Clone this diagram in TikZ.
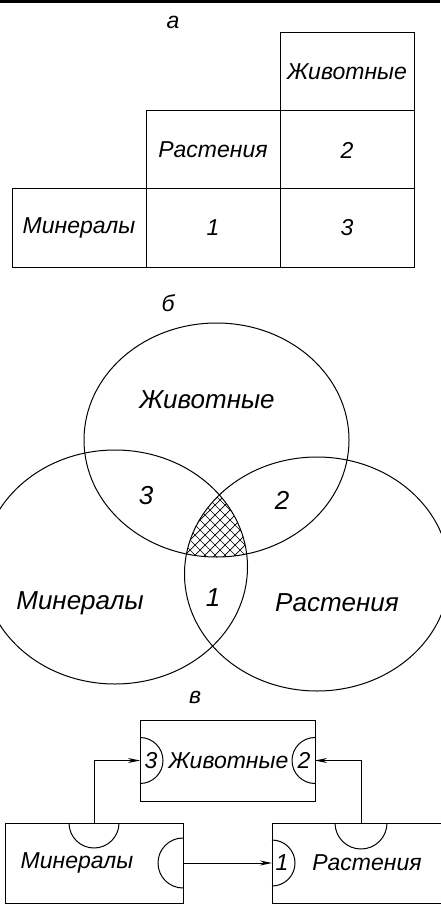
\documentclass[tikz,border=0pt]{standalone}
\usepackage{fontspec}
\setmainfont{Liberation Sans}
\usetikzlibrary{positioning,arrows.meta}

\newcommand\handfont{\fontsize{23}{27}\selectfont\itshape}
\newcommand\bighand{\fontsize{26}{30}\selectfont\itshape}

\begin{document}
\begin{tikzpicture}[x=1pt, y=-1pt,
  cell/.style={rectangle, draw, line width=1pt, minimum width=134pt,
               minimum height=78pt, inner sep=0pt, outer sep=0pt, font=\handfont},
  venn/.style={draw, line width=1pt},
  hatch/.style={line width=0.7pt},
  block/.style={rectangle, draw, line width=1pt, inner sep=0pt, outer sep=0pt},
  port/.style={draw, line width=1pt},
  lbl/.style={font=\handfont, inner sep=1pt},
  biglbl/.style={font=\bighand, inner sep=1pt},
  arr/.style={-{Stealth[length=12pt,width=5pt]}, line width=1pt}
]
\useasboundingbox (0,0) rectangle (440,904);
\draw[line width=3pt] (0,1.5) -- (440,1.5);

% a
\node[lbl] (capa) at (173,22) {а};
\node[cell] (tmin) at (79,228) {Минералы};
\node[cell, right=0pt of tmin] (tone) {1};
\node[cell, right=0pt of tone] (tthree) {3};
\node[cell, above=0pt of tone] (tras) {Растения};
\node[cell, above=0pt of tthree] (ttwo) {2};
\node[cell, above=0pt of ttwo] (tzh) {Животные};

% b
\node[lbl] (capb) at (168,303) {б};
\coordinate (czh) at (216.5,440);
\coordinate (cmin) at (115,567);
\coordinate (cras) at (317,574);
\begin{scope}
  \clip (czh) ellipse [x radius=132.5pt, y radius=117pt];
  \clip (cmin) ellipse [x radius=132.5pt, y radius=117pt];
  \clip (cras) ellipse [x radius=132.5pt, y radius=117pt];
  \foreach \k in {100,110,...,340} {
    \draw[hatch] (\k,480) -- ++(80,80);
    \draw[hatch] (\k,480) -- ++(-80,80);
  }
\end{scope}
\draw[venn] (czh) ellipse [x radius=132.5pt, y radius=117pt];
\draw[venn] (cmin) ellipse [x radius=132.5pt, y radius=117pt];
\draw[venn] (cras) ellipse [x radius=132.5pt, y radius=117pt];
\node[biglbl] (vzh) at (207,400) {Животные};
\node[biglbl] (vmin) at (80,603) {Минералы};
\node[biglbl] (vras) at (337,603) {Растения};
\node[biglbl] (vthree) at (146,496) {3};
\node[biglbl] (vtwo) at (282,500) {2};
\node[biglbl] (vone) at (213,598) {1};

% v
\node[lbl] (capv) at (195,697) {в};
\node[block, minimum width=175pt, minimum height=81pt] (zh) at (227.5,760.5) {};
\node[block, minimum width=178pt, minimum height=80pt] (min) at (94,863) {};
\node[block, minimum width=178pt, minimum height=80pt, right=89pt of min] (ras) {};

\draw[port] ([yshift=23pt]zh.west) arc[start angle=90, end angle=-90, radius=23pt];
\draw[port] ([yshift=23pt]zh.east) arc[start angle=90, end angle=270, radius=23pt];
\draw[port] ([xshift=-25pt]min.north) arc[start angle=180, end angle=360, radius=25pt];
\draw[port] ([yshift=25pt]min.east) arc[start angle=90, end angle=270, radius=25pt];
\draw[port] ([yshift=23pt]ras.west) arc[start angle=90, end angle=-90, radius=23pt];
\draw[port] ([xshift=-26pt]ras.north) arc[start angle=180, end angle=360, radius=26pt];

\node[lbl] at ([xshift=11pt]zh.west) {3};
\node[lbl] at ([xshift=-11pt]zh.east) {2};
\node[lbl] at ([xshift=10pt]ras.west) {1};
\node[lbl] at ([xshift=1pt]zh.center) {Животные};
\node[lbl] at ([xshift=-17pt]min.center) {Минералы};
\node[lbl] at ([xshift=6pt]ras.center) {Растения};

\draw[arr] (min.north) |- (zh.west);
\draw[arr] (ras.north) |- (zh.east);
\draw[arr] (min.east) -- (ras.west);
\end{tikzpicture}
\end{document}
